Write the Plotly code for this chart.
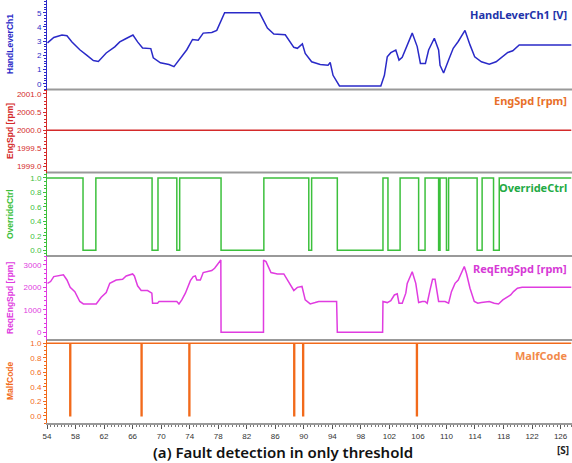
import plotly.graph_objects as go

# ---------------- data ----------------
hand_t = [54.07, 54.95, 56.1, 56.8, 57.5, 58.6, 59.6, 60.5, 61.2, 62.3, 63.5, 64.2, 65.1, 65.6, 66.05,
          66.7, 67.4, 68.55, 68.9, 69.9, 71.1, 71.8, 72.7, 73.6, 74.4, 75.2, 75.9, 77.1, 77.8, 78.2,
          78.9, 83.8, 84.5, 84.9, 85.8, 87.4, 88.6, 89.1, 89.8, 90.2, 91.1, 92.3, 93.4, 93.7, 94.1,
          95.0, 100.8, 101.3, 101.7, 102.2, 102.9, 103.35, 103.8, 104.3, 105.2, 105.9, 106.35, 107.05,
          107.5, 108.3, 108.9, 109.1, 109.6, 110.3, 110.95, 111.65, 112.2, 112.6, 113.3, 113.96, 114.9,
          116.0, 116.96, 117.9, 118.6, 119.3, 120.2, 127.5]
hand_v = [2.88, 3.26, 3.43, 3.38, 2.95, 2.40, 2.0, 1.64, 1.57, 2.17, 2.6, 2.95, 3.19, 3.31, 3.43,
          2.95, 2.52, 2.48, 1.83, 1.48, 1.36, 1.21, 1.83, 2.40, 3.12, 3.07, 3.57, 3.62, 3.76, 4.17,
          5.0, 5.0, 4.29, 3.93, 3.5, 3.45, 2.57, 2.5, 2.81, 2.14, 1.55, 1.36, 1.31, 1.5, 0.6,
          -0.15, -0.15, 0.6, 1.9, 2.19, 2.38, 1.67, 1.86, 2.5, 3.57, 2.62, 1.43, 1.43,
          2.38, 3.21, 2.38, 1.31, 0.76, 1.67, 2.5, 2.98, 3.45, 3.76, 2.74, 1.9, 1.55,
          1.38, 1.55, 1.95, 2.21, 2.33, 2.74, 2.74]

eng_t = [54.0, 127.5]
eng_v = [2000.0, 2000.0]

ovr_t = [54.0, 59.05, 60.85, 68.73, 69.56, 72.2, 72.6, 78.4, 84.4, 90.7, 91.1, 94.7, 101.1, 101.8,
         103.5, 106.1, 107.0, 108.9, 109.1, 110.0, 110.3, 114.3, 115.0, 116.6, 117.4, 127.5]
ovr_v = [1, 0, 1, 0, 1, 0, 1, 0, 1, 0, 1, 0, 1, 0, 1, 0, 1, 0, 1, 0, 1, 0, 1, 0, 1, 1]

req_t = [54.07, 54.5, 54.95, 55.9, 56.3, 56.8, 57.25, 57.9, 58.6, 59.1, 60.9, 61.6, 62.3, 62.8, 63.7,
         64.6, 65.1, 66.0, 66.25, 66.7, 67.2, 68.1, 68.7, 68.8, 69.5, 69.7, 72.2, 72.5, 72.9, 73.4,
         74.1, 74.5, 74.8, 75.0, 75.5, 75.9, 77.1, 77.5, 78.0, 78.37, 78.4, 84.35, 84.36, 84.7, 85.4,
         86.3, 87.2, 87.7, 88.6, 89.1, 89.75, 90.2, 90.9, 91.6, 92.1, 94.6, 94.7, 101.05, 101.1,
         101.7, 102.2, 102.7, 103.1, 103.35, 103.8, 104.3, 104.5, 105.2, 105.7, 106.1, 106.6, 107.0,
         107.3, 107.7, 108.05, 108.4, 108.7, 108.9, 109.8, 110.3, 110.7, 111.2, 111.65, 112.1, 112.5,
         112.8, 113.3, 113.9, 114.4, 114.9, 116.0, 116.7, 117.3, 117.9, 118.6, 119.0, 119.4, 119.95,
         120.6, 127.5]
req_v = [2180, 2260, 2480, 2560, 2560, 2330, 2000, 1810, 1370, 1260, 1260, 1560, 1770, 2180, 2330,
         2360, 2510, 2600, 2510, 2070, 1860, 1860, 1740, 1290, 1290, 1370, 1370, 1260, 1440, 1740,
         2300, 2480, 2510, 2330, 2330, 2660, 2750, 2850, 3080, 3220, 0, 0, 3220, 3150, 2660,
         2600, 2600, 2330, 1860, 2000, 2040, 1440, 1260, 1320, 1370, 1370, 0, 0, 1370,
         1320, 1410, 1660, 1710, 1290, 1290, 1740, 2180, 2700, 2180, 1320, 1370, 1370,
         1290, 1890, 2360, 2360, 1810, 1370, 1370, 1290, 1810, 2180, 2330, 2630, 2930,
         2630, 1960, 1370, 1290, 1320, 1370, 1290, 1260, 1440, 1590, 1660, 1810, 1960,
         2000, 2000]

malf_fault_t = [57.2, 67.2, 73.9, 88.6, 89.85, 105.8]
malf_start, malf_end = 54.0, 127.5

x_tick_vals = list(range(54, 127, 4))

# ---------------- styles ----------------
C_HAND = "#2a2ac8"
C_ENG = "#d42a2a"
C_OVR = "#3cc03c"
C_REQ = "#e03ce0"
C_MALF = "#f26a1b"

# build malf step from fault instants
malf_x, malf_y = [malf_start], [1]
for ft in malf_fault_t:
    malf_x += [ft, ft + 0.12]
    malf_y += [0, 1]
malf_x.append(malf_end)
malf_y.append(1)

fig = go.Figure()
fig.add_trace(go.Scatter(x=hand_t, y=hand_v, mode="lines", line=dict(color=C_HAND, width=1.5), yaxis="y"))
fig.add_trace(go.Scatter(x=eng_t, y=eng_v, mode="lines", line=dict(color=C_ENG, width=1.5), yaxis="y2"))
fig.add_trace(go.Scatter(x=ovr_t, y=ovr_v, mode="lines", line=dict(color=C_OVR, width=1.5, shape="hv"), yaxis="y3"))
fig.add_trace(go.Scatter(x=req_t, y=req_v, mode="lines", line=dict(color=C_REQ, width=1.5), yaxis="y4"))
fig.add_trace(go.Scatter(x=malf_x, y=malf_y, mode="lines", line=dict(color=C_MALF, width=1.5, shape="hv"), yaxis="y5"))

H = 423.0
def dom(top_px, bot_px):
    return [(H - bot_px) / H, (H - top_px) / H]

tickfont = dict(family="Liberation Sans", size=8)

def yax(color, domain, rng, dtick, fmt=None):
    d = dict(domain=domain, range=rng, dtick=dtick, color=color,
             showgrid=False, zeroline=False, showline=True, linecolor=color, linewidth=1,
             ticks="outside", ticklen=3, tickcolor=color,
             minor=dict(ticks="outside", ticklen=2, tickcolor=color, nticks=5),
             tickfont=dict(tickfont, color=color), anchor="x")
    if fmt:
        d["tickformat"] = fmt
    return d

fig.update_layout(
    width=572, height=463,
    margin=dict(l=47, r=0, t=0, b=40),
    paper_bgcolor="white", plot_bgcolor="white",
    showlegend=False,
    xaxis=dict(range=[54.0, 127.6], tickvals=x_tick_vals, showgrid=False, zeroline=False,
               anchor="y5",
               showline=True, linecolor="#999999", linewidth=2,
               ticks="outside", ticklen=4, tickcolor="#555555",
               minor=dict(ticks="outside", ticklen=2, dtick=0.5, tickcolor="#777777"),
               tickfont=dict(family="Liberation Sans", size=8, color="#333333")),
    yaxis=yax(C_HAND, dom(0, 89.5), [-0.4, 5.9], 1),
    yaxis2=yax(C_ENG, dom(89.5, 172.5), [1998.84, 2001.12], 0.5, ".1f"),
    yaxis3=yax(C_OVR, dom(172.5, 256), [-0.08, 1.075], 0.2, ".1f"),
    yaxis4=yax(C_REQ, dom(256, 340), [-350, 3400], 1000),
    yaxis5=yax(C_MALF, dom(340, 423), [-0.1, 1.045], 0.2, ".1f"),
)

# separators between panels
for ypx in [89.5, 172.5, 256, 340]:
    yf = (H - ypx) / H
    fig.add_shape(type="line", xref="paper", yref="paper", x0=0, x1=1, y0=yf, y1=yf,
                  line=dict(color="#999999", width=2))

# left axis titles
ytitles = [("HandLeverCh1", C_HAND, 44), ("EngSpd [rpm]", C_ENG, 131), ("OverrideCtrl", C_OVR, 214),
           ("ReqEngSpd [rpm]", C_REQ, 298), ("MalfCode", C_MALF, 381)]
for txt, col, ypx in ytitles:
    fig.add_annotation(text=txt, xref="paper", yref="paper", x=(10 - 47) / 525.0, y=(H - ypx) / H,
                       textangle=-90, showarrow=False, xanchor="center", yanchor="middle",
                       font=dict(family="Liberation Sans", size=8.5, color=col, weight="bold"))

# right-side labels
rlabels = [("HandLeverCh1 [V]", "#2233aa", 14), ("EngSpd [rpm]", "#e8702a", 100),
           ("OverrideCtrl", "#22aa44", 187), ("ReqEngSpd [rpm]", "#d63ad6", 268),
           ("MalfCode", "#f28a4a", 355)]
for txt, col, ypx in rlabels:
    fig.add_annotation(text=txt, xref="paper", yref="paper", x=(569 - 47) / 525.0, y=(H - ypx) / H,
                       showarrow=False, xanchor="right", yanchor="middle",
                       font=dict(family="Noto Sans", size=11, color=col, weight="bold"))

fig.add_annotation(text="[S]", xref="paper", yref="paper", x=(571 - 47) / 525.0, y=(H - 450) / H,
                   showarrow=False, xanchor="right", yanchor="middle",
                   font=dict(family="Noto Sans", size=10, color="#222222", weight="bold"))

fig.add_annotation(text="(a) Fault detection in only threshold", xref="paper", yref="paper",
                   x=(283 - 47) / 525.0, y=(H - 452) / H, showarrow=False,
                   xanchor="center", yanchor="middle",
                   font=dict(family="Noto Sans", size=15, color="#111111", weight=600))

fig.write_html("out.html", config={"displayModeBar": False},
               post_script="document.body.style.margin='0px';")
